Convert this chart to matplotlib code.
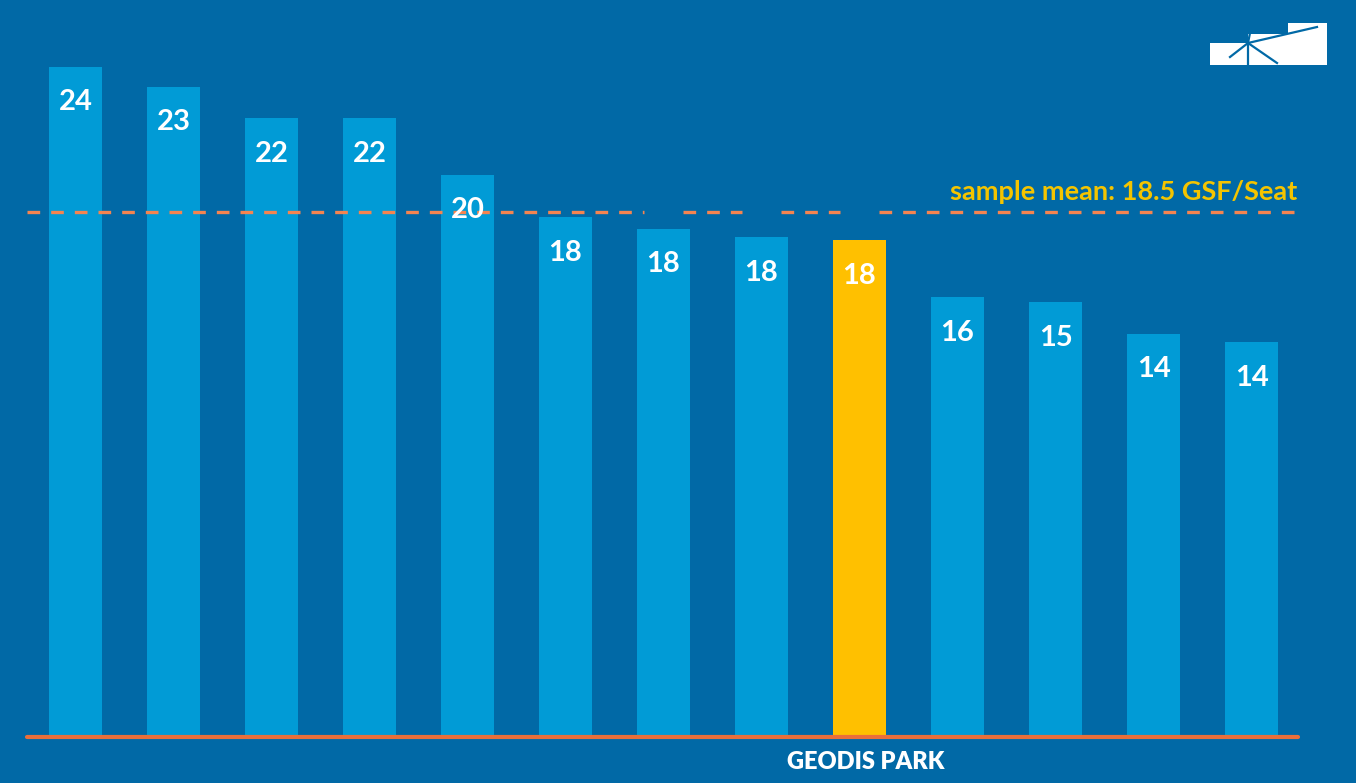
import matplotlib.pyplot as plt
from matplotlib.patches import Rectangle

# data
values = [23.6, 22.9, 21.8, 21.8, 19.8, 18.3, 17.9, 17.6, 17.5, 15.5, 15.3, 14.2, 13.9]
labels = ["24", "23", "22", "22", "20", "18", "18", "18", "18", "16", "15", "14", "14"]
highlight = 8
highlight_name = "GEODIS PARK"
mean_value = 18.5
mean_text = "sample mean: 18.5 GSF/Seat"
# bars where the dashed mean line is hidden in the original
mean_gaps = [6, 7, 8]

bg = "#0169a6"
bar_color = "#019bd6"
hi_color = "#ffc000"
base_color = "#ea6f3a"
dash_color = "#f58450"
mean_txt_color = "#f4c400"

plt.rcParams["font.family"] = ["Lato", "DejaVu Sans"]

fig = plt.figure(figsize=(13.56, 7.83), dpi=100, facecolor=bg)
ax = fig.add_axes([0, 0, 1, 1])
ax.set_facecolor(bg)

x = list(range(len(values)))
colors = [hi_color if i == highlight else bar_color for i in x]
ax.bar(x, values, width=0.55, color=colors, zorder=2)

for i, (v, lab) in enumerate(zip(values, labels)):
    ax.text(i, v - 0.8, lab, ha="center", va="top", color="white",
            fontsize=21, fontweight="bold", zorder=4)

# baseline
ax.plot([-0.495, 12.47], [0, 0], color=base_color, lw=3, solid_capstyle="round", zorder=3)

# mean line, drawn in pieces
starts = [-0.495] + [g + 0.2 for g in mean_gaps]
ends = [g - 0.2 for g in mean_gaps] + [12.47]
for s, e in zip(starts, ends):
    ax.plot([s, e], [mean_value, mean_value], color=dash_color, lw=2.4,
            dashes=(3.8, 3.3), zorder=3)
ax.text(12.47, mean_value + 0.25, mean_text, ha="right", va="bottom",
        color=mean_txt_color, fontsize=19.5, fontweight="bold")

ax.text(highlight + 0.06, -0.5, highlight_name, ha="center", va="top",
        color="white", fontsize=17, fontweight="heavy")

ax.set_xlim(-0.770, 13.066)
ax.set_ylim(-1.62, 25.95)
ax.axis("off")

# logo in the top right corner (pixel coordinates)
lax = fig.add_axes([0, 0, 1, 1], facecolor="none")
lax.set_xlim(0, 1356)
lax.set_ylim(783, 0)
lax.axis("off")
for x0, y0, x1 in [(1210, 43, 1248), (1248, 34, 1288), (1288, 23, 1327)]:
    lax.add_patch(Rectangle((x0, y0), x1 - x0, 65 - y0, color="white", lw=0))
for xe, ye in [(1317, 27), (1230, 57), (1248, 65), (1277, 63), (1240, 35), (1250, 33)]:
    lax.plot([1248, xe], [43, ye], color=bg, lw=1.6)

fig.savefig("out.png", dpi=100, facecolor=bg)
